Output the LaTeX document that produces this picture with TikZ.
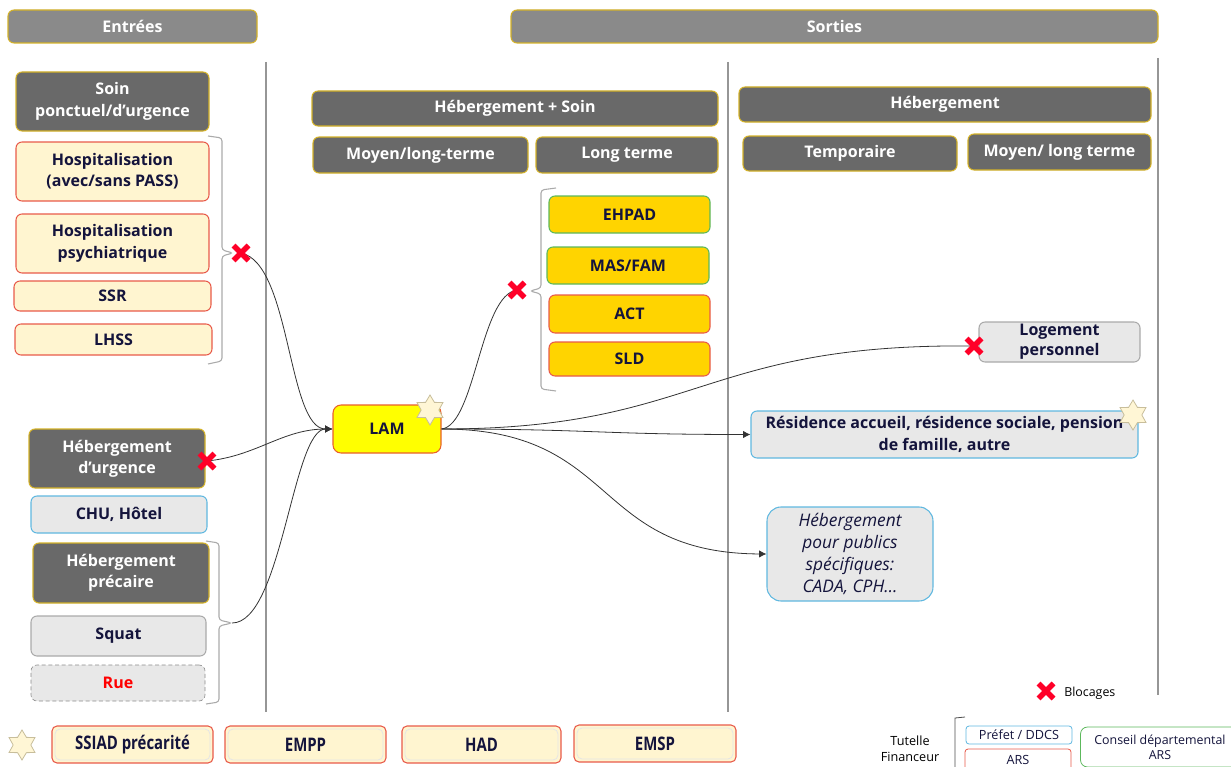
\documentclass[tikz,border=0pt]{standalone}
\usepackage{fontspec}
\setmainfont{Open Sans}
\newfontfamily\etroite[FakeStretch=0.8]{Open Sans}
\usetikzlibrary{shapes.geometric, arrows.meta}

\newdimen\pix \pix=0.75pt

\definecolor{sombre}{RGB}{105,105,105}
\definecolor{entete}{RGB}{138,138,138}
\definecolor{bordor}{RGB}{212,178,40}
\definecolor{creme}{RGB}{255,245,208}
\definecolor{bordrouge}{RGB}{232,90,74}
\definecolor{orfill}{RGB}{255,212,0}
\definecolor{bordvert}{RGB}{92,184,92}
\definecolor{grisclair}{RGB}{232,232,232}
\definecolor{bordbleu}{RGB}{96,184,224}
\definecolor{bordgris}{RGB}{170,170,170}
\definecolor{encre}{RGB}{20,20,60}
\definecolor{lamjaune}{RGB}{255,255,0}
\definecolor{lambord}{RGB}{232,96,44}
\definecolor{etoile}{RGB}{255,246,213}
\definecolor{etoilebord}{RGB}{200,190,155}
\definecolor{croixrouge}{RGB}{255,0,40}
\definecolor{trait}{RGB}{150,150,150}

\tikzset{
    boite/.style={rectangle, rounded corners=6\pix, inner sep=0pt, align=center,
        line width=0.8pt, text=encre, font=\bfseries\fontsize{12}{16}\selectfont},
    taille/.style 2 args={minimum width=#1\pix, minimum height=#2\pix},
    entetebox/.style={boite, fill=entete, draw=bordor, text=white},
    titre/.style={boite, fill=sombre, draw=bordor, text=white},
    soinbox/.style={boite, fill=creme, draw=bordrouge},
    orbox/.style={boite, fill=orfill},
    grisbox/.style={boite, fill=grisclair, draw=bordgris},
    bleubox/.style={boite, fill=grisclair, draw=bordbleu},
    equipe/.style={boite, fill=creme, draw=bordrouge, rounded corners=5\pix,
        font=\etroite\bfseries\fontsize{14}{16}\selectfont,
        path picture={\draw[white!80!gray, line width=0.6pt]
            ([shift={(3\pix,-3\pix)}]path picture bounding box.north west) rectangle
            ([shift={(-3\pix,3\pix)}]path picture bounding box.south east);}},
    petit/.style={boite, fill=white, rounded corners=3\pix, line width=0.6pt,
        font=\fontsize{9.5}{11}\selectfont},
    etoilebox/.style={star, star points=6, star point ratio=1.7, minimum size=30\pix,
        inner sep=0pt, fill=etoile, draw=etoilebord, line width=0.6pt},
    separation/.style={draw=trait, line width=0.8pt},
    accolade/.style={draw=bordgris, line width=0.8pt, rounded corners=3\pix},
    fleche/.style={draw=black!80, line width=0.6pt, -{Latex[length=5.5pt, width=5.5pt]}},
    lien/.style={draw=black!80, line width=0.6pt},
    croix/.pic={\draw[croixrouge, line width=4.2pt] (-7.5,-7.5) -- (7.5,7.5) (-7.5,7.5) -- (7.5,-7.5);}
}

\begin{document}
\begin{tikzpicture}[x=0.75pt, y=-0.75pt]
  \useasboundingbox (0,0) rectangle (1231,767);

  % colonnes
  \node[entetebox, taille={249}{33}] (entrees) at (132.5,26.5) {Entrées};
  \node[entetebox, taille={647}{33}] (sorties) at (834.5,26.5) {Sorties};
  \draw[separation] (266,62) -- (266,712);
  \draw[separation] (728,62) -- (728,712);
  \draw[separation] (1158,58) -- (1158,695);

  % entrees : soin
  \node[titre, taille={193}{59}] (soin) at (112.5,101.5) {Soin\\ponctuel/d’urgence};
  \node[soinbox, taille={193}{59}] (hospit) at (112.5,171.5) {Hospitalisation\\(avec/sans PASS)};
  \node[soinbox, taille={193}{59}] (psy) at (112.5,243.5) {Hospitalisation\\psychiatrique};
  \node[soinbox, taille={197}{30}] (ssr) at (112.5,296) {SSR};
  \node[soinbox, taille={197}{31}] (lhss) at (113.5,339.5) {LHSS};
  \draw[accolade] (208,136) -- (222,138) -- (222,250) -- (233,253) -- (222,256) -- (222,361) -- (208,364);

  % entrees : hebergement
  \node[titre, taille={176}{59}] (hurg) at (117,458.5) {Hébergement\\d’urgence};
  \node[bleubox, taille={176}{37}] (chu) at (119,514.5) {CHU, Hôtel};
  \node[titre, taille={176}{60}] (hprec) at (121,573) {Hébergement\\précaire};
  \node[grisbox, taille={175}{40}] (squat) at (118.5,636) {Squat};
  \node[grisbox, draw=black!45, densely dashed, line width=0.5pt, taille={174}{36}, text=red] (rue) at (118,683) {Rue};
  \draw[accolade] (206,541) -- (219,543) -- (219,620) -- (232,623) -- (219,626) -- (219,702) -- (206,704);

  % LAM
  \node[boite, fill=lamjaune, draw=lambord, taille={108}{48}, rounded corners=8\pix] (lam) at (387,429) {LAM};
  \node[etoilebox] (etoilelam) at (430,410) {};

  % sorties : hebergement + soin
  \node[titre, taille={406}{35}] (hsoin) at (515,108.5) {Hébergement + Soin};
  \node[titre, taille={215}{36}] (moylong) at (420.5,155) {Moyen/long-terme};
  \node[titre, taille={182}{36}] (longterme) at (627,155) {Long terme};
  \node[orbox, draw=bordvert, taille={161}{37}] (ehpad) at (629.5,214.5) {EHPAD};
  \node[orbox, draw=bordvert, taille={162}{37}] (masfam) at (628,265.5) {MAS/FAM};
  \node[orbox, draw=bordrouge, taille={161}{38}] (act) at (629.5,314) {ACT};
  \node[orbox, draw=bordrouge, taille={161}{34}] (sld) at (629.5,359) {SLD};
  \draw[accolade] (556,188) -- (541,190) -- (541,288) -- (530,291) -- (541,294) -- (541,389) -- (556,391);

  % sorties : hebergement
  \node[titre, taille={412}{35}] (heb) at (945,104.5) {Hébergement};
  \node[titre, taille={214}{35}] (temp) at (850,153.5) {Temporaire};
  \node[titre, taille={183}{36}] (moylong2) at (1059.5,152) {Moyen/ long terme};
  \node[grisbox, taille={161}{40}, font=\bfseries\fontsize{12}{15}\selectfont] (logement) at (1059.5,342) {Logement\\personnel};
  \node[bleubox, taille={387}{47}] (residence) at (944.5,434.5)
      {Résidence accueil, résidence sociale, pension\\de famille, autre};
  \node[etoilebox] (etoileres) at (1133,415) {};
  \node[bleubox, taille={166}{94}, rounded corners=14\pix, font=\itshape\fontsize{13}{16.5}\selectfont] (publics) at (850,554)
      {Hébergement\\pour publics\\spécifiques:\\CADA, CPH…};

  % blocages
  \coordinate (xsoin) at (241,253);
  \coordinate (xurg) at (207,461);
  \coordinate (xprec) at (232,623);
  \coordinate (xlong) at (517,290);
  \coordinate (xlog) at (974,346);

  % liens
  \draw[fleche] (xsoin) .. controls +(50,10) and +(-45,0) .. (lam.west);
  \draw[fleche] (xurg) .. controls +(50,-5) and +(-50,0) .. (lam.west);
  \draw[fleche] (xprec) .. controls +(50,0) and +(-40,0) .. (lam.west);
  \draw[lien] (lam.east) .. controls +(34,-4) and +(-37,5) .. (xlong);
  \draw[lien] (lam.east) .. controls (700,429) and (700,343) .. (xlog);
  \draw[fleche] (lam.east) .. controls +(150,0) and +(-150,0) .. (residence.west);
  \draw[fleche] (lam.east) .. controls (620,429) and (590,553) .. (publics.west);

  \pic at (xsoin) {croix};
  \pic at (xurg) {croix};
  \pic at (xlong) {croix};
  \pic at (xlog) {croix};

  % equipes mobiles
  \node[etoilebox] (etoileleg) at (22,745) {};
  \node[equipe, taille={161}{37}] (ssiad) at (132.5,744.5) {SSIAD précarité};
  \node[equipe, taille={161}{37}] (empp) at (305.5,744.5) {EMPP};
  \node[equipe, taille={159}{37}] (had) at (481.5,744.5) {HAD};
  \node[equipe, taille={162}{37}] (emsp) at (655,743.5) {EMSP};

  % legende
  \coordinate (xleg) at (1046,691);
  \pic at (xleg) {croix};
  \node[anchor=west, inner sep=0pt, font=\fontsize{9.3}{10}\selectfont] (blocages) at (1064,693) {Blocages};
  \node[align=center, inner sep=0pt, font=\fontsize{9.5}{12}\selectfont] (tutelle) at (910,749) {Tutelle\\Financeur};
  \draw[draw=black!70, line width=0.6pt] (965,717) -- (955,718) -- (955,767);
  \node[petit, draw=bordbleu, taille={106}{18}] (prefet) at (1019,735) {Préfet / DDCS};
  \node[petit, draw=bordrouge, taille={106}{21}] (ars) at (1018,759.5) {ARS};
  \node[petit, draw=bordvert, taille={159}{40}, rounded corners=7\pix, font=\mdseries\fontsize{9.3}{11.5}\selectfont] (conseil) at (1160,747)
      {Conseil départemental\\ARS};
  ; % fin
\end{tikzpicture}
\end{document}
